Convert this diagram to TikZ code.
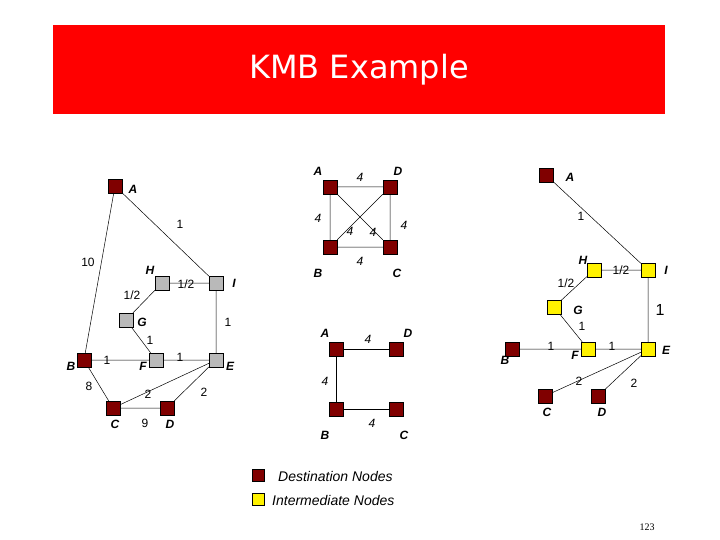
\documentclass[tikz,border=0pt]{standalone}
\usepackage{fontspec}
\setmainfont{Liberation Sans}
\newfontfamily\titlefont{DejaVu Sans}
\begin{document}
\begin{tikzpicture}[x=1pt,y=-1pt,
 dest/.style={draw=black,fill=red!50!black,minimum size=14pt,inner sep=0pt},
 mid/.style={draw=black,fill=gray!55,minimum size=14pt,inner sep=0pt},
 yel/.style={draw=black,fill=yellow,minimum size=14pt,inner sep=0pt},
 lab/.style={font=\fontsize{12}{12}\selectfont\bfseries\itshape,inner sep=0pt},
 wt/.style={font=\fontsize{12}{12}\selectfont,inner sep=0pt},
 wi/.style={font=\fontsize{12}{12}\selectfont\itshape,inner sep=0pt},
 edge/.style={draw=black,line width=0.5pt}]
\useasboundingbox (0,0) rectangle (720,540);
\fill[white] (0,0) rectangle (720,540);
\node[fill=red,minimum width=612pt,minimum height=89pt,inner sep=0pt,anchor=north west] (title) at (53,25) {};
\node[text=white,font=\titlefont\fontsize{32}{32}\selectfont] (tt) at (359,70) {KMB Example};
% left graph
\node[dest] (A) at (115,186) {};
\node[dest] (B) at (84,360) {};
\node[dest] (C) at (113,408) {};
\node[dest] (D) at (167,408) {};
\node[mid] (H) at (162,283) {};
\node[mid] (I) at (216,283) {};
\node[mid] (G) at (126,320) {};
\node[mid] (F) at (156,360) {};
\node[mid] (E) at (216,360) {};
\draw[edge] (A)--(B) (A)--(I) (H)--(I) (H)--(G) (G)--(F) (I)--(E) (B)--(F) (F)--(E) (B)--(C) (C)--(D) (C)--(E) (E)--(D);
\node[lab] (la) at (133,189) {A};
\node[lab] (lh) at (150,270) {H};
\node[lab] (li) at (234,283) {I};
\node[lab] (lg) at (142,322) {G};
\node[lab] (lb) at (71,366) {B};
\node[lab] (lf) at (143,366) {F};
\node[lab] (le) at (230,366) {E};
\node[lab] (lc) at (115,424) {C};
\node[lab] (ld) at (170,424) {D};
\node[wt] (w1) at (180,224) {1};
\node[wt] (w2) at (88,262) {10};
\node[wt] (w3) at (186,284) {1/2};
\node[wt] (w4) at (132,295) {1/2};
\node[wt] (w5) at (228,322) {1};
\node[wt] (w6) at (150,340) {1};
\node[wt] (w7) at (107,360) {1};
\node[wt] (w8) at (180,357) {1};
\node[wt] (w9) at (89,386) {8};
\node[wt] (w10) at (148,394) {2};
\node[wt] (w11) at (204,392) {2};
\node[wt] (w12) at (145,423) {9};
% middle top
\node[dest] (mA) at (330,187) {};
\node[dest] (mD) at (390,187) {};
\node[dest] (mB) at (330,247) {};
\node[dest] (mC) at (390,247) {};
\draw[edge] (mA)--(mD) (mA)--(mB) (mD)--(mC) (mB)--(mC) (mA)--(mC) (mD)--(mB);
\node[lab] (lma) at (318,171) {A};
\node[lab] (lmd) at (398,171) {D};
\node[lab] (lmb) at (318,273) {B};
\node[lab] (lmc) at (397,273) {C};
\node[wi] at (360,177) {4};
\node[wi] at (318,218) {4};
\node[wi] at (350,231) {4};
\node[wi] at (373,232) {4};
\node[wi] at (404,225) {4};
\node[wi] at (360,261) {4};
% middle bottom
\node[dest] (nA) at (336,349) {};
\node[dest] (nD) at (396,349) {};
\node[dest] (nB) at (336,409) {};
\node[dest] (nC) at (396,409) {};
\draw[edge] (nA)--(nD) (nA)--(nB) (nB)--(nC);
\node[lab] at (325,333) {A};
\node[lab] at (408,333) {D};
\node[lab] at (325,435) {B};
\node[lab] at (404,435) {C};
\node[wi] at (368,339) {4};
\node[wi] at (325,381) {4};
\node[wi] at (372,423) {4};
% right graph
\node[dest] (rA) at (546,175) {};
\node[yel] (rI) at (648,270) {};
\node[yel] (rH) at (594,270) {};
\node[yel] (rG) at (554,307) {};
\node[yel] (rF) at (588,349) {};
\node[yel] (rE) at (648,349) {};
\node[dest] (rB) at (512,349) {};
\node[dest] (rC) at (545,396) {};
\node[dest] (rD) at (598,396) {};
\draw[edge] (rA)--(rI) (rH)--(rI) (rH)--(rG) (rG)--(rF) (rI)--(rE) (rB)--(rF) (rF)--(rE) (rE)--(rC) (rE)--(rD);
\node[lab] at (570,177) {A};
\node[lab] at (583,260) {H};
\node[lab] at (666,270) {I};
\node[lab] at (578,310) {G};
\node[lab] at (505,360) {B};
\node[lab] at (575,355) {F};
\node[lab] at (666,350) {E};
\node[lab] at (547,412) {C};
\node[lab] at (602,412) {D};
\node[wt] at (581,216) {1};
\node[wt] at (621,270) {1/2};
\node[wt] at (566,283) {1/2};
\node[wt,font=\fontsize{16}{16}\selectfont] at (660,310) {1};
\node[wt] at (582,326) {1};
\node[wt] at (551,346) {1};
\node[wt] at (612,346) {1};
\node[wt] at (579,381) {2};
\node[wt] at (634,383) {2};
% legend
\node[dest,minimum size=12pt] (k1) at (258,475) {};
\node[yel,minimum size=12pt] (k2) at (258,499) {};
\node[wi,anchor=west,font=\fontsize{14}{14}\selectfont\itshape] at (278,476) {Destination Nodes};
\node[wi,anchor=west,font=\fontsize{14}{14}\selectfont\itshape] at (272,500) {Intermediate Nodes};
\node[font=\fontsize{10}{10}\selectfont\rmfamily,inner sep=0pt] at (647,527) {\fontspec{Liberation Serif}123};
\end{tikzpicture}
\end{document}
